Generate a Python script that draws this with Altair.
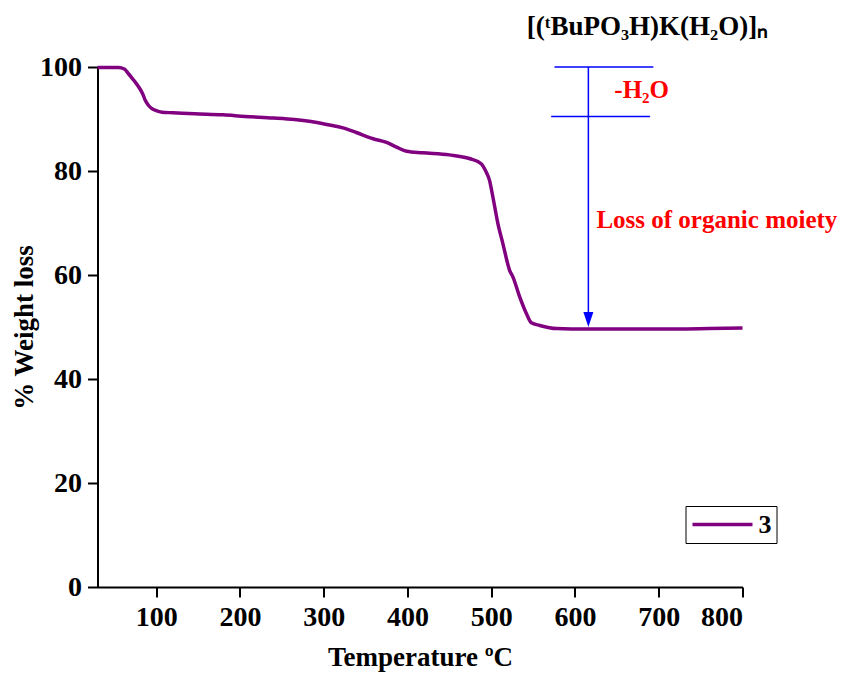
import altair as alt
import pandas as pd

# ---- data ----
temperature = [30, 55, 62, 67, 73, 79, 84, 87, 91, 95, 100, 107, 120, 146, 180, 206, 240, 265,
               285, 305, 323, 339, 359, 375, 387, 399, 418, 450, 474, 488, 494, 498, 502, 508,
               514, 522, 526, 534, 542, 548, 558, 578, 613, 640, 700, 760, 800]
weight = [99.9, 99.9, 99.6, 98.7, 97.5, 96.2, 94.8, 93.6, 92.6, 92.0, 91.6, 91.3, 91.2, 91.0,
          90.8, 90.5, 90.2, 89.9, 89.5, 88.9, 88.3, 87.4, 86.2, 85.5, 84.6, 83.8, 83.5, 83.1,
          82.4, 81.4, 79.8, 78.2, 75.0, 69.9, 66.0, 60.9, 59.6, 55.8, 52.6, 50.8, 50.3, 49.7,
          49.6, 49.6, 49.6, 49.7, 49.8]
series_name = "3"
x_ticks = [100, 200, 300, 400, 500, 600, 700, 800]
y_ticks = [0, 20, 40, 60, 80, 100]

# annotation values (data units)
step_start = [575.5, 571.6]
step_end = [693.6, 689.7]
step_level = [100, 90.5]
arrow_temp = [616]
arrow_from = [100]
arrow_to = [51.2]
arrow_tip = [50.0]
note_text = ["-H\u2082O", "Loss of organic moiety"]
note_temp = [647, 625.6]
note_level = [95.5, 70.5]
formula_text = ["[(\u1d57BuPO\u2083H)K(H\u2082O)]\u2099"]
formula_temp = [686.5]
formula_level = [106.2]

FONT = "Liberation Serif"

curve = pd.DataFrame({"T": temperature, "W": weight, "series": [series_name] * len(temperature)})
steps = pd.DataFrame({"x1": step_start, "x2": step_end, "y": step_level})
arrow = pd.DataFrame({"x": arrow_temp, "y1": arrow_from, "y2": arrow_to, "tip": arrow_tip})
notes = pd.DataFrame({"x": note_temp, "y": note_level, "t": note_text})
formula = pd.DataFrame({"x": formula_temp, "y": formula_level, "t": formula_text})

xs = alt.Scale(domain=[30, 800], nice=False, zero=False)
ys = alt.Scale(domain=[0, 100], nice=False)
x_axis = alt.Axis(values=x_ticks, title="Temperature \u00baC", titlePadding=13)
y_axis = alt.Axis(values=y_ticks, title="% Weight loss", titlePadding=1)


def X(field):
    return alt.X(field, scale=xs, axis=x_axis, title="Temperature \u00baC")


def Y(field):
    return alt.Y(field, scale=ys, axis=y_axis, title="% Weight loss")


line = alt.Chart(curve).mark_line(strokeWidth=3.5, interpolate="monotone").encode(
    x=X("T:Q"),
    y=Y("W:Q"),
    color=alt.Color("series:N", scale=alt.Scale(domain=[series_name], range=["#800080"]),
                    legend=alt.Legend(title=None, orient="none", legendX=588, legendY=439,
                                      symbolType="stroke", symbolSize=3600, clipHeight=27,
                                      symbolStrokeWidth=3.5, labelFont=FONT,
                                      labelFontWeight="bold", labelFontSize=26,
                                      labelColor="black", labelOffset=4, padding=5,
                                      strokeColor="black")),
)

step_rules = alt.Chart(steps).mark_rule(color="#0000ff", strokeWidth=1.5).encode(
    x=X("x1:Q"), x2="x2:Q",
    y=Y("y:Q"),
)

arrow_rule = alt.Chart(arrow).mark_rule(color="#0000ff", strokeWidth=1.5).encode(
    x=X("x:Q"),
    y=Y("y1:Q"), y2="y2:Q",
)

arrow_head = alt.Chart(arrow).mark_point(
    shape="M-0.67,-1L0.67,-1L0,1Z", filled=True, color="#0000ff", opacity=1, size=225
).encode(
    x=X("x:Q"),
    y=Y("tip:Q"),
    yOffset=alt.value(-7.5),
)

note_marks = alt.Chart(notes).mark_text(
    align="left", baseline="middle", font=FONT, fontWeight="bold", fontSize=25, color="#ff0000"
).encode(
    x=X("x:Q"),
    y=Y("y:Q"),
    text="t:N",
)

formula_mark = alt.Chart(formula).mark_text(
    align="center", baseline="alphabetic", font=FONT, fontWeight="bold", fontSize=27, color="black"
).encode(
    x=X("x:Q"),
    y=Y("y:Q"),
    text="t:N",
)

chart = alt.layer(line, step_rules, arrow_rule, arrow_head, note_marks, formula_mark).properties(
    width=645, height=520,
    autosize=alt.AutoSizeParams(type="none"),
    padding={"left": 89.5, "top": 59, "right": 94, "bottom": 86},
).configure_view(stroke=None).configure_axis(
    grid=False, domainColor="black", domainWidth=2, tickColor="black", tickWidth=2,
    tickSize=10, labelFont=FONT, labelFontWeight="bold", labelFontSize=28, labelColor="black",
    labelPadding=6, titleFont=FONT, titleFontWeight="bold", titleFontSize=27, titleColor="black",
)

chart.save("out.html", embed_options={"renderer": "svg", "actions": False})
